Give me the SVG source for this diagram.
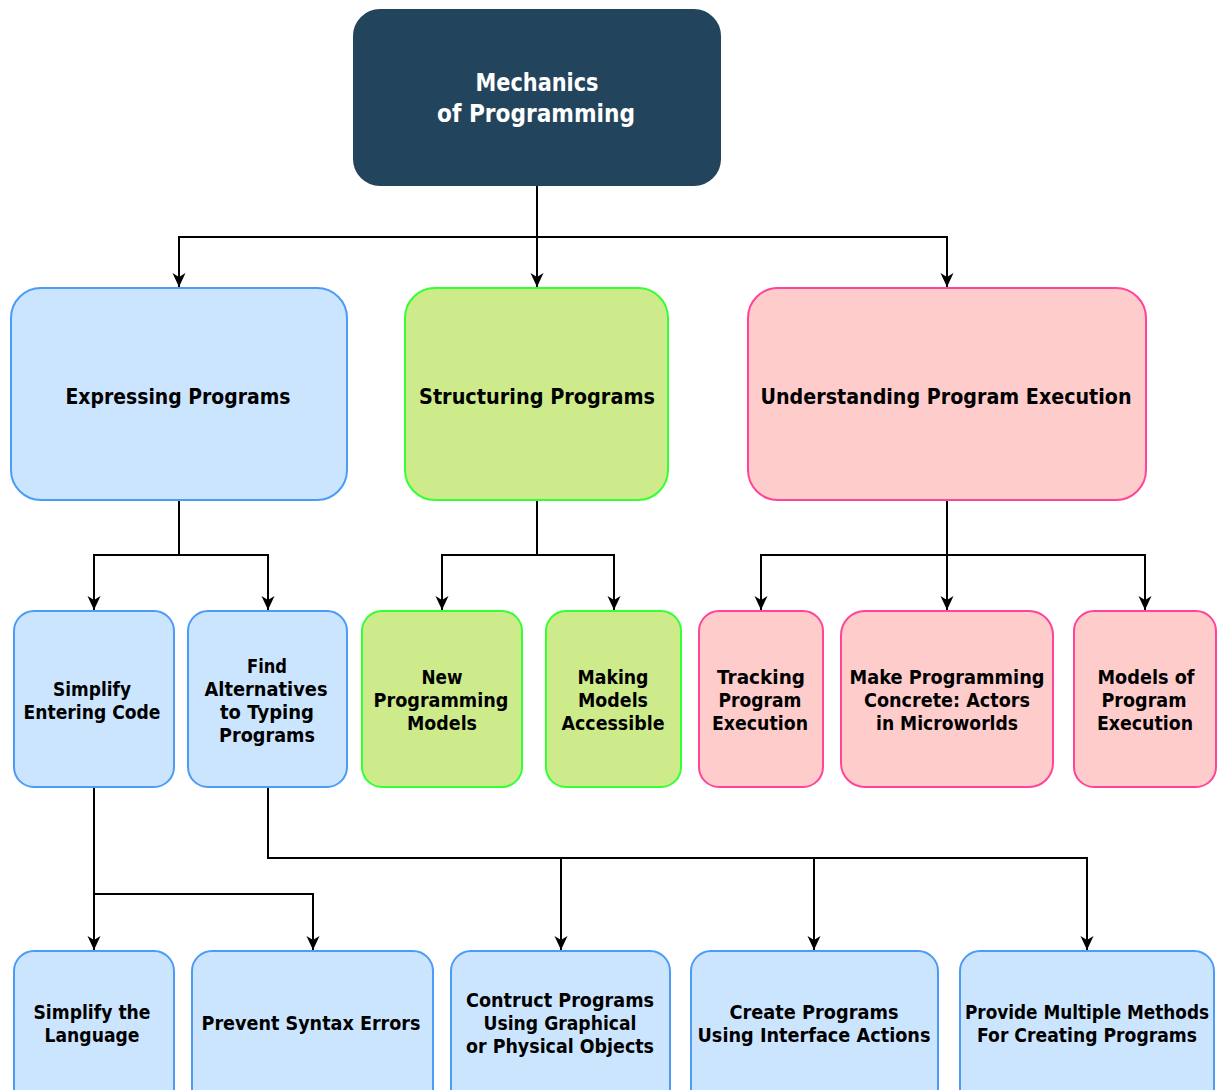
<svg xmlns="http://www.w3.org/2000/svg" width="1222" height="1090" viewBox="0 0 1222 1090">
<style>
text { font-family: "DejaVu Sans", Verdana, sans-serif; font-weight: bold; text-anchor: middle; fill: #000; }
.t1 { font-size: 24px; fill: #ffffff; }
.t2 { font-size: 22px; }
.t3 { font-size: 20px; }
.root { fill: #23445d; stroke: #23445d; stroke-width: 2; }
.blue { fill: #cce5ff; stroke: #4b9bf7; stroke-width: 2; }
.green { fill: #cdeb8b; stroke: #33ff33; stroke-width: 2; }
.pink { fill: #ffcccc; stroke: #ff4499; stroke-width: 2; }
.edge { fill: none; stroke: #000; stroke-width: 2; }
</style>
<defs>
<marker id="arr" viewBox="0 0 14 14" refX="14" refY="7" markerWidth="14" markerHeight="14" markerUnits="userSpaceOnUse" orient="auto">
<path d="M0,0.5 L14,7 L0,13.5 L4,7 z" fill="#000"/>
</marker>
</defs>

<g id="connectors">
<path class="edge" d="M537,185 V287" marker-end="url(#arr)"/>
<path class="edge" d="M537,237 H179 V287" marker-end="url(#arr)"/>
<path class="edge" d="M537,237 H947 V287" marker-end="url(#arr)"/>
<path class="edge" d="M179,500 V555 H94 V610" marker-end="url(#arr)"/>
<path class="edge" d="M179,555 H268 V610" marker-end="url(#arr)"/>
<path class="edge" d="M537,500 V555 H442 V610" marker-end="url(#arr)"/>
<path class="edge" d="M537,555 H614 V610" marker-end="url(#arr)"/>
<path class="edge" d="M947,500 V610" marker-end="url(#arr)"/>
<path class="edge" d="M947,555 H761 V610" marker-end="url(#arr)"/>
<path class="edge" d="M947,555 H1145 V610" marker-end="url(#arr)"/>
<path class="edge" d="M94,787 V950" marker-end="url(#arr)"/>
<path class="edge" d="M94,894 H313 V950" marker-end="url(#arr)"/>
<path class="edge" d="M268,787 V858 H1087 V950" marker-end="url(#arr)"/>
<path class="edge" d="M561,858 V950" marker-end="url(#arr)"/>
<path class="edge" d="M814,858 V950" marker-end="url(#arr)"/>
</g>

<g id="root">
<rect class="root" x="354" y="10" width="366" height="175" rx="26"/>
<text class="t1" x="537" y="91" textLength="123" lengthAdjust="spacingAndGlyphs">Mechanics</text>
<text class="t1" x="536" y="122" textLength="198" lengthAdjust="spacingAndGlyphs">of Programming</text>
</g>

<g id="expressing">
<rect class="blue" x="11" y="288" width="336" height="212" rx="30"/>
<text class="t2" x="178" y="404" textLength="225" lengthAdjust="spacingAndGlyphs">Expressing Programs</text>
</g>
<g id="structuring">
<rect class="green" x="405" y="288" width="263" height="212" rx="30"/>
<text class="t2" x="537" y="404" textLength="236" lengthAdjust="spacingAndGlyphs">Structuring Programs</text>
</g>
<g id="understanding">
<rect class="pink" x="748" y="288" width="398" height="212" rx="30"/>
<text class="t2" x="946" y="404" textLength="371" lengthAdjust="spacingAndGlyphs">Understanding Program Execution</text>
</g>

<g id="simplify-entering">
<rect class="blue" x="14" y="611" width="160" height="176" rx="20"/>
<text class="t3" x="92" y="696" textLength="78" lengthAdjust="spacingAndGlyphs">Simplify</text>
<text class="t3" x="92" y="719" textLength="137" lengthAdjust="spacingAndGlyphs">Entering Code</text>
</g>
<g id="find-alternatives">
<rect class="blue" x="188" y="611" width="159" height="176" rx="20"/>
<text class="t3" x="267" y="673" textLength="40" lengthAdjust="spacingAndGlyphs">Find</text>
<text class="t3" x="266" y="696" textLength="123" lengthAdjust="spacingAndGlyphs">Alternatives</text>
<text class="t3" x="267" y="719" textLength="94" lengthAdjust="spacingAndGlyphs">to Typing</text>
<text class="t3" x="267" y="742" textLength="96" lengthAdjust="spacingAndGlyphs">Programs</text>
</g>
<g id="new-models">
<rect class="green" x="362" y="611" width="160" height="176" rx="20"/>
<text class="t3" x="442" y="684" textLength="41" lengthAdjust="spacingAndGlyphs">New</text>
<text class="t3" x="441" y="707" textLength="135" lengthAdjust="spacingAndGlyphs">Programming</text>
<text class="t3" x="442" y="730" textLength="70" lengthAdjust="spacingAndGlyphs">Models</text>
</g>
<g id="making-models">
<rect class="green" x="546" y="611" width="135" height="176" rx="20"/>
<text class="t3" x="613" y="684" textLength="71" lengthAdjust="spacingAndGlyphs">Making</text>
<text class="t3" x="613" y="707" textLength="70" lengthAdjust="spacingAndGlyphs">Models</text>
<text class="t3" x="613" y="730" textLength="103" lengthAdjust="spacingAndGlyphs">Accessible</text>
</g>
<g id="tracking">
<rect class="pink" x="699" y="611" width="124" height="176" rx="20"/>
<text class="t3" x="761" y="684" textLength="88" lengthAdjust="spacingAndGlyphs">Tracking</text>
<text class="t3" x="760" y="707" textLength="83" lengthAdjust="spacingAndGlyphs">Program</text>
<text class="t3" x="760" y="730" textLength="96" lengthAdjust="spacingAndGlyphs">Execution</text>
</g>
<g id="make-concrete">
<rect class="pink" x="841" y="611" width="212" height="176" rx="24"/>
<text class="t3" x="947" y="684" textLength="195" lengthAdjust="spacingAndGlyphs">Make Programming</text>
<text class="t3" x="947" y="707" textLength="166" lengthAdjust="spacingAndGlyphs">Concrete: Actors</text>
<text class="t3" x="947" y="730" textLength="142" lengthAdjust="spacingAndGlyphs">in Microworlds</text>
</g>
<g id="models-execution">
<rect class="pink" x="1074" y="611" width="142" height="176" rx="20"/>
<text class="t3" x="1146" y="684" textLength="97" lengthAdjust="spacingAndGlyphs">Models of</text>
<text class="t3" x="1144" y="707" textLength="85" lengthAdjust="spacingAndGlyphs">Program</text>
<text class="t3" x="1145" y="730" textLength="96" lengthAdjust="spacingAndGlyphs">Execution</text>
</g>

<g id="simplify-language">
<rect class="blue" x="14" y="951" width="160" height="170" rx="20"/>
<text class="t3" x="92" y="1019" textLength="117" lengthAdjust="spacingAndGlyphs">Simplify the</text>
<text class="t3" x="92" y="1042" textLength="95" lengthAdjust="spacingAndGlyphs">Language</text>
</g>
<g id="prevent-syntax">
<rect class="blue" x="192" y="951" width="241" height="170" rx="20"/>
<text class="t3" x="311" y="1030" textLength="219" lengthAdjust="spacingAndGlyphs">Prevent Syntax Errors</text>
</g>
<g id="construct-programs">
<rect class="blue" x="451" y="951" width="219" height="170" rx="20"/>
<text class="t3" x="560" y="1007" textLength="188" lengthAdjust="spacingAndGlyphs">Contruct Programs</text>
<text class="t3" x="560" y="1030" textLength="153" lengthAdjust="spacingAndGlyphs">Using Graphical</text>
<text class="t3" x="560" y="1053" textLength="188" lengthAdjust="spacingAndGlyphs">or Physical Objects</text>
</g>
<g id="create-programs">
<rect class="blue" x="691" y="951" width="247" height="170" rx="20"/>
<text class="t3" x="814" y="1019" textLength="169" lengthAdjust="spacingAndGlyphs">Create Programs</text>
<text class="t3" x="814" y="1042" textLength="233" lengthAdjust="spacingAndGlyphs">Using Interface Actions</text>
</g>
<g id="multiple-methods">
<rect class="blue" x="960" y="951" width="254" height="170" rx="20"/>
<text class="t3" x="1087" y="1019" textLength="244" lengthAdjust="spacingAndGlyphs">Provide Multiple Methods</text>
<text class="t3" x="1087" y="1042" textLength="220" lengthAdjust="spacingAndGlyphs">For Creating Programs</text>
</g>
</svg>
